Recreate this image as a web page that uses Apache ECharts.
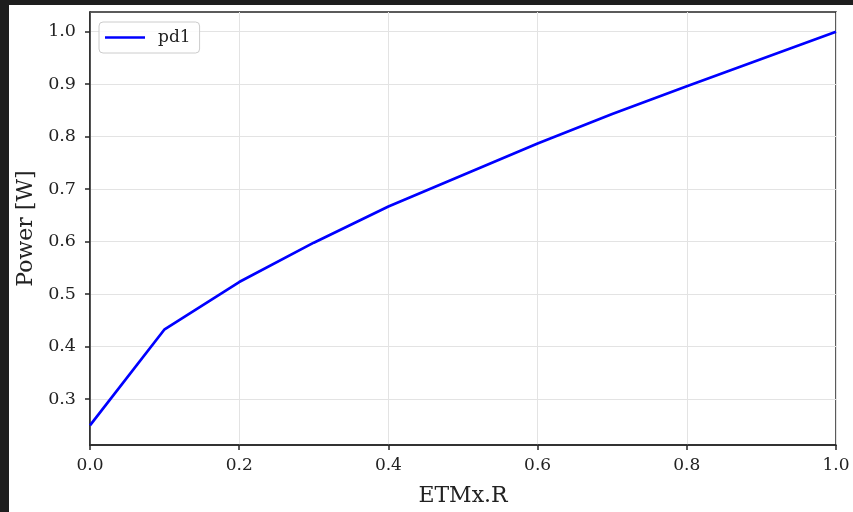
<!DOCTYPE html>
<html>
<head>
<meta charset="utf-8">
<script src="https://cdn.jsdelivr.net/npm/echarts@6/dist/echarts.min.js"></script>
<style>
html,body{margin:0;padding:0;background:#1e1e1e;width:853px;height:512px;overflow:hidden;}
#c{position:absolute;left:9px;top:5px;width:844px;height:507px;background:#fff;}
</style>
</head>
<body>
<div id="c"></div>
<script>
const xValues = [0.0, 0.1, 0.2, 0.3, 0.4, 0.5, 0.6, 0.7, 0.8, 0.9, 1.0];
const pd1 = [0.25, 0.433, 0.523, 0.598, 0.667, 0.727, 0.787, 0.843, 0.896, 0.948, 1.0];
const xTicks = [0.0, 0.2, 0.4, 0.6, 0.8, 1.0];
const yTicks = [0.3, 0.4, 0.5, 0.6, 0.7, 0.8, 0.9, 1.0];
const seriesName = 'pd1';
const xTitle = 'ETMx.R';
const yTitle = 'Power [W]';

const font = 'DejaVu Serif';
const chart = echarts.init(document.getElementById('c'), null, {renderer: 'canvas'});
const ymin = 0.25, ymax = 1.0, pad = (ymax - ymin) * 0.05;
chart.setOption({
  animation: false,
  backgroundColor: '#ffffff',
  grid: {left: 81, top: 7, right: 17, bottom: 67, outerBoundsMode: 'none', containLabel: false,
         show: true, borderColor: '#262626', borderWidth: 1.5, backgroundColor: 'transparent'},
  legend: {
    show: true, left: 90, top: 17,
    data: [{name: seriesName, icon: 'rect'}],
    itemWidth: 40, itemHeight: 2.7,
    padding: [7, 9, 7, 6],
    borderColor: '#cccccc', borderWidth: 1, borderRadius: 4,
    backgroundColor: 'rgba(255,255,255,0.8)',
    textStyle: {fontFamily: font, fontSize: 17, color: '#222', padding: [0, 0, 0, 8]}
  },
  xAxis: {
    type: 'value', min: 0, max: 1, interval: 0.2,
    name: xTitle, nameLocation: 'middle', nameGap: 40,
    nameTextStyle: {fontFamily: font, fontSize: 22, color: '#222'},
    axisLine: {show: true, lineStyle: {color: '#262626', width: 1.5}},
    axisTick: {show: true, inside: false, length: 5, lineStyle: {color: '#262626', width: 1.5}},
    axisLabel: {fontFamily: font, fontSize: 17, color: '#222', margin: 12, formatter: v => v.toFixed(1)},
    splitLine: {show: true, lineStyle: {color: '#e3e3e3', width: 1}}
  },
  yAxis: {
    type: 'value', min: ymin - pad, max: ymax + pad,
    name: yTitle, nameLocation: 'middle', nameGap: 51,
    nameTextStyle: {fontFamily: font, fontSize: 22, color: '#222'},
    axisLine: {show: true, lineStyle: {color: '#262626', width: 1.5}},
    axisTick: {show: true, inside: false, length: 5, customValues: yTicks, lineStyle: {color: '#262626', width: 1.5}},
    axisLabel: {fontFamily: font, fontSize: 17.5, color: '#222', margin: 14, customValues: yTicks, formatter: v => v.toFixed(1)},
    splitLine: {show: true, lineStyle: {color: '#e3e3e3', width: 1}}
  },
  series: [{
    name: seriesName, type: 'line',
    data: xValues.map((x, i) => [x, pd1[i]]),
    symbol: 'none', showSymbol: false,
    lineStyle: {color: '#0000ff', width: 2.7},
    itemStyle: {color: '#0000ff'}
  }]
});
</script>
</body>
</html>
